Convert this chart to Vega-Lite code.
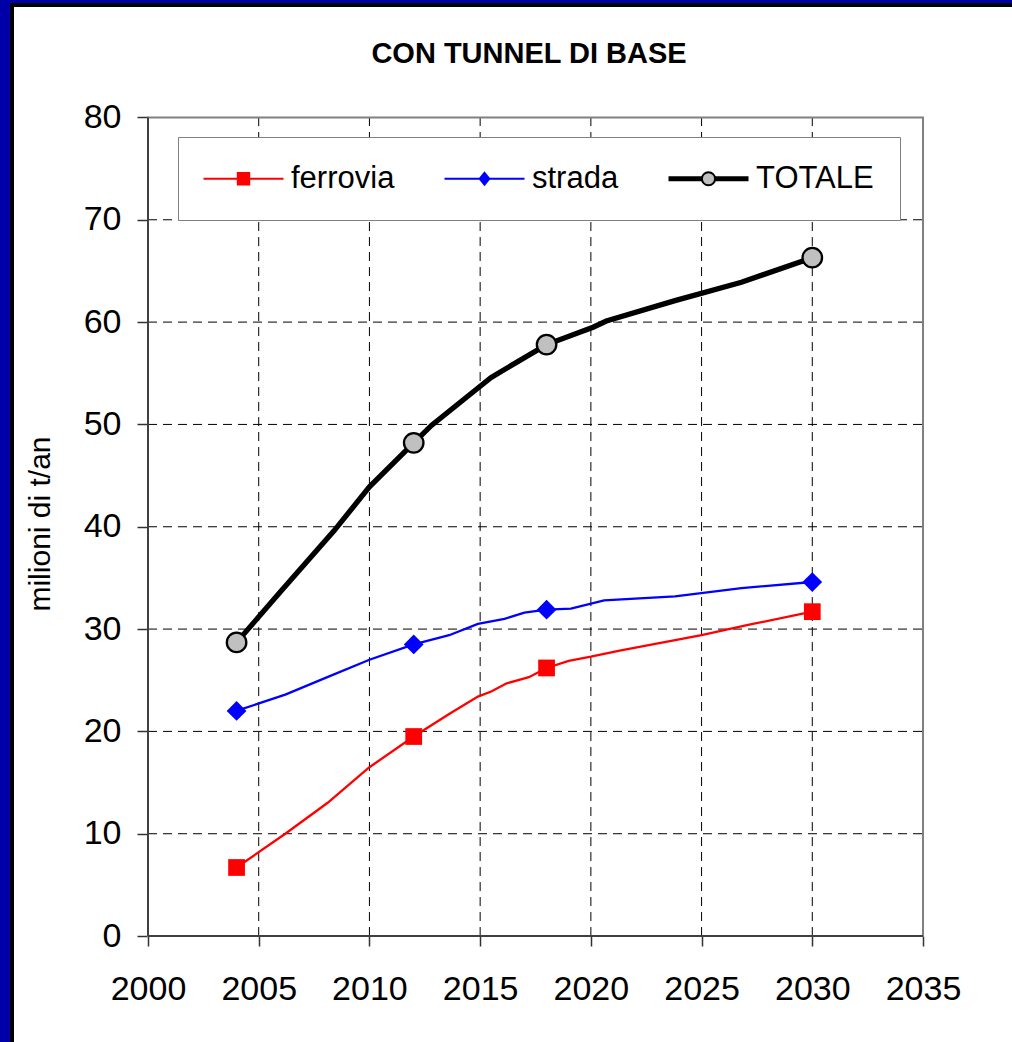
{
  "$schema": "https://vega.github.io/schema/vega-lite/v6.json",
  "width": 1000,
  "height": 1037,
  "autosize": {"type": "none"},
  "padding": {"left": 12, "top": 5, "right": 0, "bottom": 0},
  "background": "#0000a8",
  "config": {
    "view": {"fill": "white", "stroke": "black", "strokeWidth": 4, "strokeDash": [1000, 2037, 1037]},
    "font": "Liberation Sans"
  },
  "title": {
    "text": "CON TUNNEL DI BASE",
    "font": "Liberation Sans",
    "fontSize": 29,
    "fontWeight": "bold",
    "color": "black",
    "anchor": "middle",
    "frame": "group",
    "baseline": "alphabetic",
    "offset": -87,
    "dx": 17
  },
  "datasets": {
    "serie": [
      {"serie": "ferrovia", "anno": 2004, "valore": 6.7, "marker": true},
      {"serie": "ferrovia", "anno": 2006.2, "valore": 10.0, "marker": false},
      {"serie": "ferrovia", "anno": 2008.1, "valore": 13.0, "marker": false},
      {"serie": "ferrovia", "anno": 2010, "valore": 16.5, "marker": false},
      {"serie": "ferrovia", "anno": 2012, "valore": 19.5, "marker": true},
      {"serie": "ferrovia", "anno": 2013.6, "valore": 21.7, "marker": false},
      {"serie": "ferrovia", "anno": 2014.9, "valore": 23.4, "marker": false},
      {"serie": "ferrovia", "anno": 2015.5, "valore": 23.9, "marker": false},
      {"serie": "ferrovia", "anno": 2016.2, "valore": 24.7, "marker": false},
      {"serie": "ferrovia", "anno": 2017.2, "valore": 25.3, "marker": false},
      {"serie": "ferrovia", "anno": 2018, "valore": 26.2, "marker": true},
      {"serie": "ferrovia", "anno": 2019, "valore": 26.9, "marker": false},
      {"serie": "ferrovia", "anno": 2020, "valore": 27.3, "marker": false},
      {"serie": "ferrovia", "anno": 2021.3, "valore": 27.9, "marker": false},
      {"serie": "ferrovia", "anno": 2025, "valore": 29.4, "marker": false},
      {"serie": "ferrovia", "anno": 2027.1, "valore": 30.4, "marker": false},
      {"serie": "ferrovia", "anno": 2030, "valore": 31.7, "marker": true},
      {"serie": "strada", "anno": 2004, "valore": 22.0, "marker": true},
      {"serie": "strada", "anno": 2006.2, "valore": 23.6, "marker": false},
      {"serie": "strada", "anno": 2008.1, "valore": 25.3, "marker": false},
      {"serie": "strada", "anno": 2010, "valore": 27.0, "marker": false},
      {"serie": "strada", "anno": 2012, "valore": 28.5, "marker": true},
      {"serie": "strada", "anno": 2013.6, "valore": 29.4, "marker": false},
      {"serie": "strada", "anno": 2014.9, "valore": 30.5, "marker": false},
      {"serie": "strada", "anno": 2016.1, "valore": 31.0, "marker": false},
      {"serie": "strada", "anno": 2017, "valore": 31.6, "marker": false},
      {"serie": "strada", "anno": 2018, "valore": 31.9, "marker": true},
      {"serie": "strada", "anno": 2019.1, "valore": 32.0, "marker": false},
      {"serie": "strada", "anno": 2020.6, "valore": 32.8, "marker": false},
      {"serie": "strada", "anno": 2023.8, "valore": 33.2, "marker": false},
      {"serie": "strada", "anno": 2026.8, "valore": 34.0, "marker": false},
      {"serie": "strada", "anno": 2030, "valore": 34.6, "marker": true},
      {"serie": "TOTALE", "anno": 2004, "valore": 28.7, "marker": true},
      {"serie": "TOTALE", "anno": 2006, "valore": 33.7, "marker": false},
      {"serie": "TOTALE", "anno": 2008.4, "valore": 39.6, "marker": false},
      {"serie": "TOTALE", "anno": 2010, "valore": 43.9, "marker": false},
      {"serie": "TOTALE", "anno": 2012, "valore": 48.2, "marker": true},
      {"serie": "TOTALE", "anno": 2012.8, "valore": 49.9, "marker": false},
      {"serie": "TOTALE", "anno": 2015.1, "valore": 53.9, "marker": false},
      {"serie": "TOTALE", "anno": 2015.5, "valore": 54.6, "marker": false},
      {"serie": "TOTALE", "anno": 2018, "valore": 57.8, "marker": true},
      {"serie": "TOTALE", "anno": 2020.1, "valore": 59.5, "marker": false},
      {"serie": "TOTALE", "anno": 2020.7, "valore": 60.1, "marker": false},
      {"serie": "TOTALE", "anno": 2023.8, "valore": 62.1, "marker": false},
      {"serie": "TOTALE", "anno": 2026.8, "valore": 63.9, "marker": false},
      {"serie": "TOTALE", "anno": 2030, "valore": 66.3, "marker": true}
    ],
    "gx": [{"v": 2005}, {"v": 2010}, {"v": 2015}, {"v": 2020}, {"v": 2025}, {"v": 2030}],
    "gy": [{"v": 10}, {"v": 20}, {"v": 30}, {"v": 40}, {"v": 50}, {"v": 60}, {"v": 70}],
    "box": [{"x0": 2000, "x1": 2035, "y0": 0, "y1": 80}]
  },
  "layer": [
    {
      "data": {"name": "gy"},
      "mark": {"type": "rule", "color": "black", "strokeWidth": 1, "strokeDash": [9, 6]},
      "encoding": {
        "y": {"field": "v", "type": "quantitative"},
        "x": {"datum": 2000, "type": "quantitative"},
        "x2": {"datum": 2035}
      }
    },
    {
      "data": {"name": "gx"},
      "mark": {"type": "rule", "color": "black", "strokeWidth": 1, "strokeDash": [9, 6]},
      "encoding": {
        "x": {"field": "v", "type": "quantitative"},
        "y": {"datum": 0, "type": "quantitative"},
        "y2": {"datum": 80}
      }
    },
    {
      "data": {"name": "box"},
      "mark": {"type": "rect", "fill": "transparent", "stroke": "#808080", "strokeWidth": 2},
      "encoding": {
        "x": {"field": "x0", "type": "quantitative"},
        "x2": {"field": "x1"},
        "y": {"field": "y0", "type": "quantitative"},
        "y2": {"field": "y1"}
      }
    },
    {
      "data": {"name": "box"},
      "mark": {"type": "rule", "color": "#404040", "strokeWidth": 2},
      "encoding": {
        "x": {"field": "x0", "type": "quantitative"},
        "y": {"field": "y0", "type": "quantitative"},
        "y2": {"field": "y1"}
      }
    },
    {
      "data": {"name": "box"},
      "mark": {"type": "rule", "color": "#404040", "strokeWidth": 2},
      "encoding": {
        "y": {"field": "y0", "type": "quantitative"},
        "x": {"field": "x0", "type": "quantitative"},
        "x2": {"field": "x1"}
      }
    },
    {
      "data": {"name": "serie"},
      "transform": [{"filter": "datum.serie === 'ferrovia'"}],
      "mark": {"type": "line", "interpolate": "linear", "color": "#ff0000", "strokeWidth": 2.3},
      "encoding": {
        "x": {
          "field": "anno", "type": "quantitative",
          "scale": {"domain": [1993.858, 2039.019], "nice": false, "zero": false},
          "axis": {
            "orient": "bottom", "offset": -106,
            "values": [2000, 2005, 2010, 2015, 2020, 2025, 2030, 2035],
            "format": "d", "domain": false, "grid": false,
            "ticks": true, "tickSize": 10, "tickColor": "#333333", "tickWidth": 1.5,
            "labelFont": "Liberation Sans", "labelFontSize": 34, "labelColor": "black",
            "labelPadding": 26, "labelOverlap": false, "labelFlush": false, "labelBound": false,
            "title": null
          }
        },
        "y": {
          "field": "valore", "type": "quantitative",
          "scale": {"domain": [-10.354, 90.99], "nice": false, "zero": false},
          "axis": {
            "orient": "left", "offset": -136,
            "values": [0, 10, 20, 30, 40, 50, 60, 70, 80],
            "domain": false, "grid": false,
            "ticks": true, "tickSize": 11, "tickColor": "#333333", "tickWidth": 1.5,
            "labelFont": "Liberation Sans", "labelFontSize": 34, "labelColor": "black",
            "labelPadding": 16, "labelOverlap": false, "labelBound": false, "labelFlush": false,
            "title": "milioni di t/an",
            "titleFont": "Liberation Sans", "titleFontSize": 30, "titleFontWeight": "normal",
            "titleColor": "black", "titleX": -108, "titleAlign": "center",
            "titleBaseline": "middle", "titleAngle": 270
          }
        }
      }
    },
    {
      "data": {"name": "serie"},
      "transform": [{"filter": "datum.serie === 'strada'"}],
      "mark": {"type": "line", "interpolate": "linear", "color": "#0000ff", "strokeWidth": 2.3},
      "encoding": {
        "x": {"field": "anno", "type": "quantitative"},
        "y": {"field": "valore", "type": "quantitative"}
      }
    },
    {
      "data": {"name": "serie"},
      "transform": [{"filter": "datum.serie === 'TOTALE'"}],
      "mark": {"type": "line", "interpolate": "linear", "color": "#000000", "strokeWidth": 5.3},
      "encoding": {
        "x": {"field": "anno", "type": "quantitative"},
        "y": {"field": "valore", "type": "quantitative"}
      }
    },
    {
      "data": {"name": "serie"},
      "transform": [{"filter": "datum.marker"}],
      "mark": {"type": "point", "filled": true, "opacity": 1, "strokeWidth": 2.3},
      "encoding": {
        "x": {"field": "anno", "type": "quantitative"},
        "y": {"field": "valore", "type": "quantitative"},
        "shape": {"condition": [{"test": "datum.serie === 'ferrovia'", "value": "square"}, {"test": "datum.serie === 'strada'", "value": "diamond"}], "value": "circle"},
        "size": {"condition": [{"test": "datum.serie === 'TOTALE'", "value": 380}, {"test": "datum.serie === 'strada'", "value": 390}], "value": 280},
        "fill": {"condition": [{"test": "datum.serie === 'ferrovia'", "value": "#ff0000"}, {"test": "datum.serie === 'strada'", "value": "#0000ff"}], "value": "#c0c0c0"},
        "stroke": {"condition": {"test": "datum.serie === 'TOTALE'", "value": "#000000"}, "value": "transparent"}
      }
    },
    {
      "data": {"name": "serie"},
      "transform": [{"filter": "datum.marker && datum.anno > 3000"}],
      "mark": {"type": "point", "filled": true, "opacity": 1, "size": 144, "strokeWidth": 2},
      "encoding": {
        "x": {"field": "anno", "type": "quantitative"},
        "y": {"field": "valore", "type": "quantitative"},
        "shape": {
          "field": "serie", "type": "nominal",
          "scale": {"domain": ["ferrovia", "strada", "TOTALE"], "range": [
            "M-2.667,0H10.667M3.05,-0.95H4.95V0.95H3.05Z",
            "M-2.667,0H10.667M4,-1L4.8,0L4,1L3.2,0Z",
            "M-2.667,-0.25H2.9M-2.667,0H2.9M-2.667,0.25H2.9M5.1,-0.25H10.667M5.1,0H10.667M5.1,0.25H10.667M2.9,0A1.1,1.1 0 1,0 5.1,0A1.1,1.1 0 1,0 2.9,0Z"
          ]},
          "legend": {
            "orient": "none", "legendX": 166, "legendY": 132, "direction": "horizontal",
            "title": null, "labelFont": "Liberation Sans", "labelFontSize": 31, "labelColor": "black",
            "labelLimit": 400, "labelOffset": 56, "symbolSize": 144, "symbolStrokeWidth": 2,
            "symbolOpacity": 1, "columnPadding": 45, "padding": 26,
            "fillColor": "white", "strokeColor": "#808080"
          }
        },
        "fill": {
          "field": "serie", "type": "nominal",
          "scale": {"domain": ["ferrovia", "strada", "TOTALE"], "range": ["#ff0000", "#0000ff", "#c0c0c0"]}
        },
        "stroke": {
          "field": "serie", "type": "nominal",
          "scale": {"domain": ["ferrovia", "strada", "TOTALE"], "range": ["#ff0000", "#0000ff", "#000000"]}
        }
      }
    }
  ]
}
